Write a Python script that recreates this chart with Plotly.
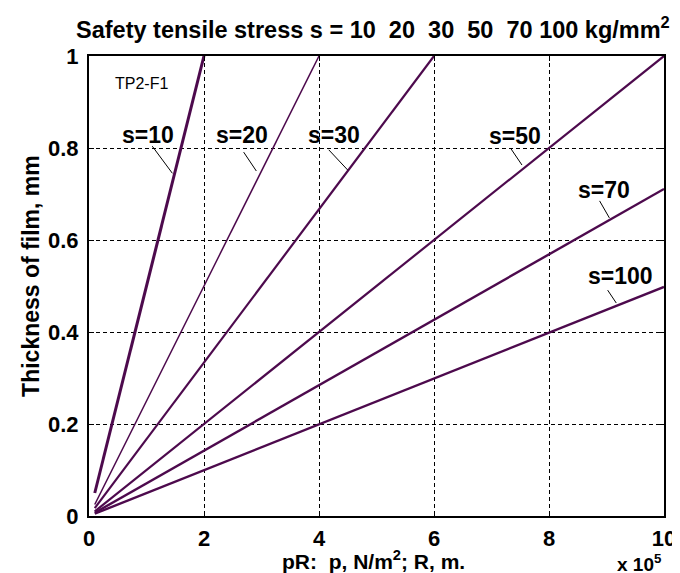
import plotly.graph_objects as go

# data (x in units of 1e5, thickness in mm)
stress = [10, 20, 30, 50, 70, 100]
x_start = [0.1, 0.1, 0.1, 0.1, 0.1, 0.1]
x_end = [2.0, 4.0, 6.0, 10.0, 10.0, 10.0]
y_start = [0.05, 0.025, 0.017, 0.01, 0.007, 0.005]
y_end = [1.0, 1.0, 1.0, 1.0, 0.711, 0.498]
line_widths = [3.0, 1.5, 2.2, 2.2, 2.4, 2.4]

# label positions and leader lines
label_x = [1.02, 2.66, 4.26, 7.41, 8.95, 9.24]
label_y = [0.828, 0.828, 0.828, 0.826, 0.709, 0.522]
leader_x0 = [1.10, 2.69, 4.17, 7.34, 8.88, 9.02]
leader_y0 = [0.804, 0.791, 0.796, 0.798, 0.685, 0.491]
leader_x1 = [1.45, 2.91, 4.50, 7.53, 9.05, 9.17]
leader_y1 = [0.745, 0.750, 0.752, 0.763, 0.648, 0.463]

x_ticks = [0, 2, 4, 6, 8, 10]
y_ticks = [0, 0.2, 0.4, 0.6, 0.8, 1.0]
y_tick_text = ["0", "0.2", "0.4", "0.6", "0.8", "1"]

color = "#4d0a4d"
FONT = "Liberation Sans"
NB = "\u00a0"

fig = go.Figure()
for i, s in enumerate(stress):
    fig.add_trace(go.Scatter(
        x=[x_start[i], x_end[i]], y=[y_start[i], y_end[i]],
        mode="lines", line=dict(color=color, width=line_widths[i]),
        showlegend=False, hoverinfo="skip"))
    fig.add_trace(go.Scatter(
        x=[leader_x0[i], leader_x1[i]], y=[leader_y0[i], leader_y1[i]],
        mode="lines", line=dict(color="black", width=1),
        showlegend=False, hoverinfo="skip"))
    fig.add_annotation(x=label_x[i], y=label_y[i], text=f"s={s}", showarrow=False,
                       font=dict(family=FONT, size=23, color="black", weight="bold"),
                       xanchor="center", yanchor="middle")

fig.add_annotation(x=0.42, y=0.94, text="TP2-F1", showarrow=False,
                   font=dict(family=FONT, size=16, color="black"),
                   xanchor="left", yanchor="middle")

title_text = ("Safety tensile stress s = 10" + NB * 2 + "20" + NB * 2 + "30" + NB * 2
              + "50" + NB * 2 + "70 100 kg/mm<sup>2</sup>")
fig.add_annotation(xref="paper", yref="paper", x=1.0, xshift=8, y=1, yshift=11,
                   text=title_text,
                   showarrow=False, xanchor="right", yanchor="bottom",
                   font=dict(family=FONT, size=23.5, color="black", weight="bold"))

fig.add_annotation(xref="paper", yref="paper", x=0.495, y=0, yshift=-44,
                   text="pR:" + NB * 2 + "p, N/m<sup>2</sup>; R, m.",
                   showarrow=False, xanchor="center", yanchor="middle",
                   font=dict(family=FONT, size=21, color="black", weight="bold"))

fig.add_annotation(xref="paper", yref="paper", x=1.0, y=0, yshift=-61, xshift=0,
                   text="x 10<sup>5</sup>",
                   showarrow=False, xanchor="right", yanchor="bottom",
                   font=dict(family=FONT, size=19, color="black", weight="bold"))

fig.add_annotation(xref="paper", yref="paper", x=0, y=0.522, xshift=-58,
                   text="Thickness of film, mm", textangle=-90,
                   showarrow=False, xanchor="center", yanchor="middle",
                   font=dict(family=FONT, size=23, color="black", weight="bold"))

axis_common = dict(
    showline=True, linecolor="black", linewidth=2, mirror="ticks",
    ticks="inside", ticklen=5, tickwidth=1, tickcolor="black",
    showgrid=True, gridcolor="black", griddash="4px,3px", gridwidth=1,
    zeroline=False,
    tickfont=dict(family=FONT, size=22, color="black", weight="bold"),
)

fig.update_xaxes(range=[0, 10], tickvals=x_ticks, ticktext=[str(t) for t in x_ticks],
                 ticklabelstandoff=2, **axis_common)
fig.update_yaxes(range=[0, 1], tickvals=y_ticks, ticktext=y_tick_text,
                 ticklabelstandoff=4, **axis_common)

fig.update_layout(
    width=680, height=573,
    margin=dict(l=81, r=19, t=48, b=65),
    plot_bgcolor="white", paper_bgcolor="white",
)

fig.write_html("out.html")
